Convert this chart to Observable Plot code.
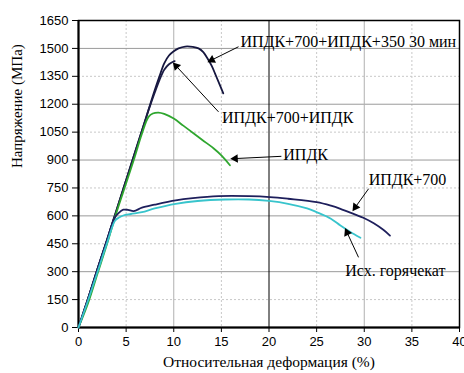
<!DOCTYPE html>
<html><head><meta charset="utf-8">
<script src="https://cdn.jsdelivr.net/npm/d3@7"></script>
<script src="https://cdn.jsdelivr.net/npm/@observablehq/plot@0.6"></script>
<style>body{margin:0;background:#fff}</style>
</head><body><div id="chart"></div>
<script>
// Curve data (strain %, stress MPa)
const a350X = [0,1,2,3,4,5,6,7,7.5,8,8.5,9,9.5,10,10.5,11.2,12,12.6,13.1,13.5,14,14.4,14.8,15.2];
const a350Y = [0,155,315,472,632,792,952,1112,1195,1275,1350,1420,1462,1485,1500,1510,1508,1500,1480,1450,1405,1357,1308,1258];
const ipdkIpdkX = [0,1,2,3,4,5,6,7,7.5,8,8.5,9,9.5,10,10.1];
const ipdkIpdkY = [0,155,315,472,632,792,952,1112,1190,1262,1330,1385,1415,1430,1432];
const ipdkX = [0,1,2,3,4,5,5.8,6.66,7.35,7.8,8.4,9,10,11,12.1,13,14.2,15,15.9];
const ipdkY = [0,130,290,450,620,775,900,1042,1132,1150,1155,1148,1123,1085,1043,1008,962,925,872];
const ipdk700X = [0,1,2,3,3.8,4.2,4.7,5.2,5.8,6.66,8,10.2,12,14.7,17.9,20.1,22,25,26.5,27.5,29,29.9,31,32,32.7];
const ipdk700Y = [0,155,315,470,590,615,633,632,626,644,660,683,695,706,706,701,692,674,655,638,608,590,560,525,494];
const hotX = [0,1,2,3,3.85,4.3,4.7,5.5,6.66,8,10.2,12.5,15.4,17.9,20,22,24,25,26.5,27.5,28.5,29.6];
const hotY = [0,145,300,455,575,592,602,610,620,640,665,680,688,688,680,665,640,620,585,548,515,482];

const seriesNames = ["ИПДК+700+ИПДК+350 30 мин","ИПДК+700+ИПДК","ИПДК","ИПДК+700","Исх. горячекат"];
const seriesColors = ["#15163f","#1b1c45","#2ea62e","#1e1f5c","#38c4cc"];

const xTicks = [0,5,10,15,20,25,30,35,40];
const yTicks = [0,150,300,450,600,750,900,1050,1200,1350,1500,1650];
const xMajorGrid = [10,30];
const xCenterGrid = [20];
const xMinorGrid = [5,15,25,35];
const yMajorGrid = [300,600,900,1200,1500];
const yMinorGrid = [150,450,750,1050,1350];

// annotation labels (data coords) and arrows
const labelText = ["ИПДК+700+ИПДК+350 30 мин","ИПДК+700+ИПДК","ИПДК","ИПДК+700","Исх. горячекат"];
const labelX = [17.0,15.06,21.5,30.46,28.0];
const labelY = [1535,1125,926,791,306];
const arrowX1 = [16.8,14.7,21.3,30.46,29.4];
const arrowY1 = [1509,1159,920,746,377];
const arrowX2 = [14.0,10.26,16.46,29.07,28.2];
const arrowY2 = [1438,1405,908,647,510];
const arrowDash = [null,null,"4,3",null,null];

const W = 464, H = 373, mL = 78, mR = 5, mT = 20, mB = 46;
const xDomain = [0,40], yDomain = [0,1650];
const sx = Plot.scale({x: {domain: xDomain, range: [mL, W - mR]}});
const sy = Plot.scale({y: {domain: yDomain, range: [H - mB, mT]}});

const curveXs = [a350X,ipdkIpdkX,ipdkX,ipdk700X,hotX];
const curveYs = [a350Y,ipdkIpdkY,ipdkY,ipdk700Y,hotY];
const curves = [];
curveXs.forEach((xs,i)=>xs.forEach((x,j)=>curves.push({s:seriesNames[i],x,y:curveYs[i][j]})));
const labels = labelText.map((t,i)=>({t,x:labelX[i],y:labelY[i]}));
const arrows = arrowX1.map((x1,i)=>{
  const y1 = arrowY1[i], x2 = arrowX2[i], y2 = arrowY2[i];
  const px = sx.apply(x2) - sx.apply(x1), py = sy.apply(y2) - sy.apply(y1);
  const ang = Math.atan2(px, -py) * 180 / Math.PI;
  return {x1, y1, x2, y2, d: arrowDash[i], ang};
});

const serif = "'Liberation Serif','Times New Roman',serif";

const chart = Plot.plot({
  width: W, height: H,
  marginLeft: mL, marginRight: mR, marginTop: mT, marginBottom: mB,
  style: {fontFamily: "'Liberation Sans',Arial,sans-serif", fontSize: "13px", background: "#fff"},
  x: {domain: xDomain, label: null},
  y: {domain: yDomain, label: null},
  color: {domain: seriesNames, range: seriesColors},
  marks: [
    Plot.ruleY(yMinorGrid, {stroke: "#c8c8c8", strokeDasharray: "2,2"}),
    Plot.ruleX(xMinorGrid, {stroke: "#c8c8c8", strokeDasharray: "2,2"}),
    Plot.ruleY(yMajorGrid, {stroke: "#9a9a9a"}),
    Plot.ruleX(xMajorGrid, {stroke: "#b0b0b0"}),
    Plot.ruleX(xCenterGrid, {stroke: "#000"}),
    Plot.axisX({ticks: xTicks, tickSize: 5, tickPadding: 4, fontSize: 13, tickFormat: d => String(d)}),
    Plot.axisY({ticks: yTicks, tickSize: 6, tickPadding: 4, fontSize: 13, tickFormat: d => String(d)}),
    Plot.frame({stroke: "#000", strokeWidth: 1.5}),
    Plot.ruleX([0], {stroke: "#000", strokeWidth: 2}),
    Plot.ruleY([0], {stroke: "#000", strokeWidth: 2}),
    Plot.line(curves, {x: "x", y: "y", z: "s", stroke: "s", strokeWidth: 1.8, curve: "catmull-rom"}),
    Plot.link(arrows, {x1: "x1", y1: "y1", x2: "x2", y2: "y2", stroke: "#000", strokeWidth: 1, strokeDasharray: d => d.d}),
    Plot.dot(arrows, {x: "x2", y: "y2", symbol: "triangle", r: 3.2, fill: "#000", stroke: null, rotate: "ang"}),
    Plot.text(labels, {x: "x", y: "y", text: "t", textAnchor: "start", fontFamily: serif, fontSize: 16, fill: "#000"}),
    Plot.text(["Напряжение (МПа)"], {frameAnchor: "left", dx: -61, dy: -6, rotate: -90, fontFamily: serif, fontSize: 15, fill: "#000"}),
    Plot.text(["Относительная деформация (%)"], {frameAnchor: "bottom", dy: 39, fontFamily: serif, fontSize: 15.5, fill: "#000"})
  ]
});
document.getElementById("chart").appendChild(chart);
</script>
</body></html>
